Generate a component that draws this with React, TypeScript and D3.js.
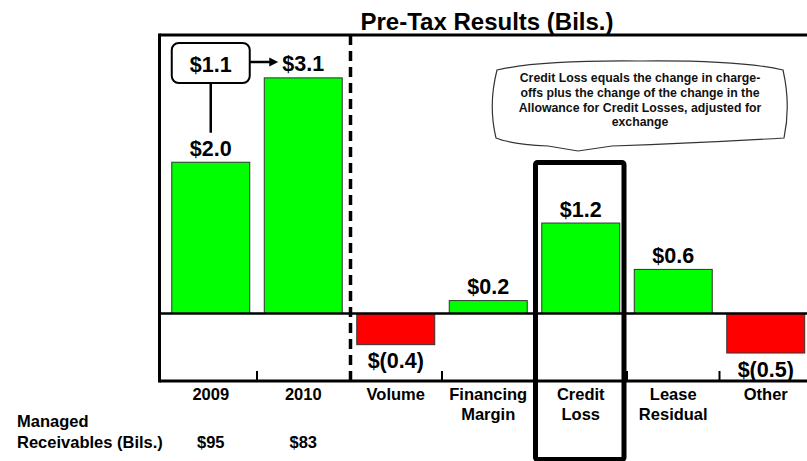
import React from "react";
import * as d3 from "d3";

const categories = ["2009", "2010", "Volume", "Financing Margin", "Credit Loss", "Lease Residual", "Other"];
const categoryLines = [["2009"], ["2010"], ["Volume"], ["Financing", "Margin"], ["Credit", "Loss"], ["Lease", "Residual"], ["Other"]];
const values = [1.99, 3.1, -0.41, 0.17, 1.19, 0.58, -0.52];
const valueLabels = ["$2.0", "$3.1", "$(0.4)", "$0.2", "$1.2", "$0.6", "$(0.5)"];
const receivableCats = ["2009", "2010"];
const receivableLabels = ["$95", "$83"];
const changeLabel = "$1.1";
const bubbleLines = [
  "Credit Loss equals the change in charge-",
  "offs plus the change of the change in the",
  "Allowance for Credit Losses, adjusted for",
  "exchange",
];

const W = 807;
const H = 461;
const FONT = "'Liberation Sans', Arial, Helvetica, sans-serif";

export default function App() {
  const x = d3
    .scaleBand<string>()
    .domain(categories)
    .range([164.5, 812])
    .paddingInner(0.157)
    .paddingOuter(0.0785);
  const y = d3.scaleLinear().domain([-0.888, 3.664]).range([381, 35]);
  const step = x.step();
  const bw = x.bandwidth();
  const gap = (step - bw) / 2;
  const boundary = (c: string) => (x(c) as number) - gap;
  const cx = (c: string) => (x(c) as number) + bw / 2;
  const y0 = y(0);
  const frameLeft = 159.5;
  const axisY = y.range()[0];
  const topY = y.range()[1];

  const tickCats = categories.slice(1).filter((c) => c !== "Volume" && c !== "Credit Loss" && c !== "Lease Residual");
  const tickXs = [boundary("2010"), boundary("Financing Margin"), boundary("Other"), boundary("Lease Residual")];

  const clX0 = boundary("Credit Loss") + 1;
  const clX1 = boundary("Credit Loss") + step - 3;

  // $1.1 change annotation
  const c09 = cx("2009");
  const lab09Y = y(values[0]) - 6.5;
  const boxTop = 43;
  const boxH = 40;
  const arrowY = boxTop + boxH / 2 - 1;
  const arrowEnd = cx("2010") - 25;

  const bubblePath =
    "M497,70 Q540,60 640,61 Q740,60 783,70 Q791,105 784,138 Q700,143 612,146 L578,151 L548,146 Q510,144 496,138 Q488,105 497,70 Z";

  return (
    <svg width={W} height={H} style={{ position: "absolute", left: 0, top: 0, background: "#fff" }} fontFamily={FONT}>
      <rect x={0} y={0} width={W} height={H} fill="#fff" />
      {/* Title */}
      <text x={487} y={30} textAnchor="middle" fontSize={24} fontWeight="bold" fill="#000">
        Pre-Tax Results (Bils.)
      </text>

      {/* Bars */}
      {categories.map((c, i) => {
        const v = values[i];
        const yTop = v >= 0 ? y(v) : y0;
        const h = Math.abs(y(v) - y0);
        return (
          <rect
            key={c}
            x={x(c)}
            y={yTop}
            width={bw}
            height={h}
            fill={v >= 0 ? "#00ff00" : "#ff0000"}
            stroke="#333"
            strokeWidth={1}
          />
        );
      })}

      {/* Zero line */}
      <line x1={frameLeft} x2={W} y1={y0} y2={y0} stroke="#000" strokeWidth={2.5} />

      {/* Frame */}
      <line x1={frameLeft} x2={W} y1={topY} y2={topY} stroke="#000" strokeWidth={3} />
      <line x1={frameLeft} x2={frameLeft} y1={topY - 1.5} y2={axisY + 1.5} stroke="#000" strokeWidth={3} />
      <line x1={frameLeft} x2={W} y1={axisY} y2={axisY} stroke="#000" strokeWidth={3} />
      {tickXs.map((tx, i) => (
        <line key={i} x1={tx} x2={tx} y1={axisY - 10} y2={axisY} stroke="#000" strokeWidth={2} />
      ))}

      {/* Dashed separator */}
      <line
        x1={boundary("Volume") + 1}
        x2={boundary("Volume") + 1}
        y1={topY}
        y2={axisY}
        stroke="#000"
        strokeWidth={3.5}
        strokeDasharray="10,6"
      />

      {/* Value labels */}
      {categories.map((c, i) => {
        const v = values[i];
        const ly = v >= 0 ? y(v) - 6.5 : y(v) + 23.5;
        return (
          <text key={c} x={cx(c)} y={ly} textAnchor="middle" fontSize={21.5} fontWeight="bold" fill="#000">
            {valueLabels[i]}
          </text>
        );
      })}

      {/* Category labels */}
      {categories.map((c, i) => (
        <text key={c} x={cx(c)} y={400} textAnchor="middle" fontSize={16.5} fontWeight="bold" fill="#000">
          {categoryLines[i].map((ln, j) => (
            <tspan key={j} x={cx(c)} dy={j === 0 ? 0 : 20}>
              {ln}
            </tspan>
          ))}
        </text>
      ))}

      {/* Managed receivables row */}
      <text x={17} y={427} fontSize={16.5} fontWeight="bold" fill="#000">
        Managed
      </text>
      <text x={17} y={448} fontSize={16.5} fontWeight="bold" fill="#000">
        Receivables (Bils.)
      </text>
      {receivableCats.map((c, i) => (
        <text key={c} x={cx(c)} y={448} textAnchor="middle" fontSize={16.5} fontWeight="bold" fill="#000">
          {receivableLabels[i]}
        </text>
      ))}

      {/* Credit loss highlight box */}
      <rect
        x={clX0}
        y={162.5}
        width={clX1 - clX0}
        height={297}
        fill="none"
        stroke="#000"
        strokeWidth={5}
        rx={2}
      />

      {/* $1.1 change callout */}
      <rect
        x={x("2009")}
        y={boxTop}
        width={bw}
        height={boxH}
        rx={7}
        fill="#fff"
        stroke="#000"
        strokeWidth={2}
      />
      <text x={c09} y={boxTop + 28.5} textAnchor="middle" fontSize={21.5} fontWeight="bold" fill="#000">
        {changeLabel}
      </text>
      <line x1={c09} x2={c09} y1={boxTop + boxH} y2={lab09Y - 23} stroke="#000" strokeWidth={2.5} />
      <line x1={(x("2009") as number) + bw} x2={arrowEnd - 7} y1={arrowY} y2={arrowY} stroke="#000" strokeWidth={2.5} />
      <path
        d={`M${arrowEnd},${arrowY} L${arrowEnd - 9},${arrowY - 4.5} L${arrowEnd - 9},${arrowY + 4.5} Z`}
        fill="#000"
      />

      {/* Speech bubble */}
      <path d={bubblePath} fill="#fff" stroke="#333" strokeWidth={1.2} />
      <text x={640} y={82} textAnchor="middle" fontSize={12.3} fontWeight="bold" fill="#111">
        {bubbleLines.map((ln, j) => (
          <tspan key={j} x={640} dy={j === 0 ? 0 : 14.8}>
            {ln}
          </tspan>
        ))}
      </text>
    </svg>
  );
}
